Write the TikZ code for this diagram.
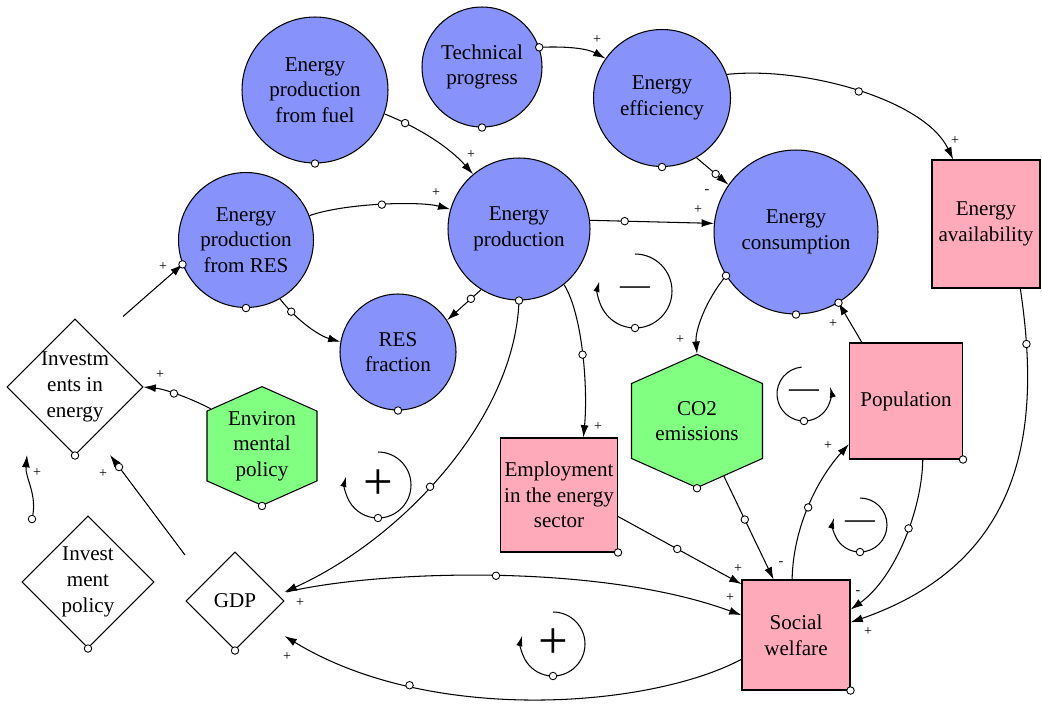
\documentclass[tikz,border=0pt]{standalone}
\usepackage{fontspec}
\setmainfont{Liberation Serif}
\usetikzlibrary{shapes.geometric,shapes.symbols,arrows.meta}
\definecolor{varblue}{RGB}{135,146,250}
\definecolor{auxpink}{RGB}{255,170,186}
\definecolor{polgreen}{RGB}{128,255,128}
\newcommand{\loopplus}{\fontsize{30}{30}\selectfont +}
\newcommand{\loopminus}{\fontsize{17}{17}\selectfont —}
\begin{document}
\begin{tikzpicture}[x=0.02cm,y=0.02cm]
    \tikzstyle{txt}=[align=center,font=\fontsize{12}{14.6}\selectfont]
    \tikzstyle{var}=[txt,circle,fill=varblue,draw=black,line width=0.6pt,inner sep=0pt]
    \tikzstyle{aux}=[txt,rectangle,fill=auxpink,draw=black,line width=0.6pt,inner sep=0pt]
    \tikzstyle{pol}=[txt,signal,signal to=north and south,signal pointer angle=132,fill=polgreen,draw=black,line width=0.6pt,inner sep=0pt]
    \tikzstyle{dmd}=[diamond,fill=white,draw=black,line width=0.6pt,inner sep=0pt,aspect=1]
    \tikzstyle{fwd}=[draw=black,line width=0.6pt,-{Latex[length=7pt,width=4.5pt]}]
    \tikzstyle{loopar}=[draw=black,line width=0.6pt,-{Latex[length=6pt,width=3.6pt]}]
    \tikzstyle{hndl}=[circle,draw=black,fill=white,line width=0.5pt,inner sep=0pt,minimum size=0.15cm]
    \tikzstyle{sgn}=[font=\fontsize{8}{8}\selectfont,inner sep=0pt]
    \tikzstyle{lsign}=[inner sep=0pt]

    \useasboundingbox (0,0) rectangle (1042,-704);

    \node[var,minimum size=2.92cm] (fuel) at (315,-90) {Energy\\production\\from fuel};
    \node[var,minimum size=2.40cm] (tech) at (482,-67) {Technical\\progress};
    \node[var,minimum size=2.74cm] (eff) at (662,-98) {Energy\\efficiency};
    \node[var,minimum size=2.84cm] (prod) at (519,-229) {Energy\\production};
    \node[var,minimum size=3.28cm] (cons) at (796,-232) {Energy\\consumption};
    \node[var,minimum size=2.70cm] (res) at (246,-240) {Energy\\production\\from RES};
    \node[var,minimum size=2.32cm] (frac) at (398,-352) {RES\\fraction};

    \node[aux,minimum width=2.16cm,minimum height=2.56cm] (avail) at (986,-224) {Energy\\availability};
    \node[aux,minimum width=2.26cm,minimum height=2.32cm] (pop) at (906,-401) {Population};
    \node[aux,minimum width=2.34cm,minimum height=2.28cm] (empl) at (559,-495) {Employment\\in the energy\\sector};
    \node[aux,minimum width=2.16cm,minimum height=2.20cm] (sw) at (796,-635) {Social\\welfare};

    \node[pol,minimum width=2.62cm,minimum height=2.24cm] (co2) at (697,-421) {CO2\\emissions};
    \node[pol,minimum width=2.20cm,minimum height=1.96cm] (env) at (262,-446) {Environ\\mental\\policy};

    \node[dmd,minimum size=2.72cm,label={[txt]center:Investm\\ents in\\energy}] (inv) at (75,-387) {};
    \node[dmd,minimum size=2.64cm,label={[txt]center:Invest\\ment\\policy}] (ipol) at (88,-582) {};
    \node[dmd,minimum size=1.96cm,label={[txt]center:GDP}] (gdp) at (235,-601) {};

    \draw[fwd] (tech.19) .. controls (570,-46) and (588,-49) .. (eff.145) node[hndl,pos=0] (h1) {};
    \draw[fwd] (fuel.-19) .. controls (420,-128) and (450,-148) .. (prod.130) node[hndl,pos=0.2] (h2) {};
    \draw[fwd] (eff.-60) -- (cons.145) node[hndl,pos=0.6] (h3) {};
    \draw[fwd] (eff.20) .. controls (805,-66) and (925,-100) .. (avail.117) node[hndl,pos=0.5] (h4) {};
    \draw[fwd] (res.21) .. controls (345,-203) and (420,-201) .. (prod.164) node[hndl,pos=0.5] (h5) {};
    \draw[fwd] (prod.7) -- (cons.174) node[hndl,pos=0.28] (h6) {};
    \draw[fwd] (res.-60) .. controls (298,-322) and (320,-336) .. (frac.170) node[hndl,pos=0.2] (h7) {};
    \draw[fwd] (prod.-122) -- (frac.33) node[hndl,pos=0.3] (h8) {};
    \draw[fwd] (prod.-51) .. controls (583,-315) and (588,-390) .. (empl.67) node[hndl,pos=0.5] (h9) {};
    \draw[fwd] (prod.south) .. controls (515,-420) and (400,-540) .. ([shift={(0,9)}]gdp.east) node[hndl,pos=0.55] (h10) {};
    \draw[fwd] (cons.-148) .. controls (706,-300) and (695,-330) .. (co2.north) node[hndl,pos=0] (h11) {};
    \draw[fwd] (pop.127) -- (cons.-59) node[hndl,pos=1] (h12) {};
    \draw[fwd] (avail.-62) .. controls (1040,-420) and (1030,-560) .. (sw.13) node[hndl,pos=0.14] (h13) {};
    \draw[fwd] (pop.-74) .. controls (922,-510) and (895,-578) .. (sw.25) node[hndl,pos=0.42] (h14) {};
    \draw[fwd] (sw.94) .. controls (793,-530) and (815,-482) .. (pop.-143) node[hndl,pos=0.5] (h15) {};
    \draw[fwd] (co2.-64) -- (sw.112) node[hndl,pos=0.42] (h16) {};
    \draw[fwd] (empl.-20) -- (sw.137) node[hndl,pos=0.48] (h17) {};
    \draw[fwd] ([shift={(2,9)}]gdp.east) .. controls (380,-570) and (600,-563) .. (sw.160) node[hndl,pos=0.5] (h18) {};
    \draw[fwd] (sw.-156) .. controls (650,-708) and (430,-725) .. ([shift={(0,-35)}]gdp.east) node[hndl,pos=0.74] (h19) {};
    \draw[fwd] (env.144) .. controls (190,-398) and (165,-389) .. (inv.east) node[hndl,pos=0.55] (h20) {};
    \draw[fwd] ([shift={(48,2)}]inv.north) -- (res.-159) node[hndl,pos=1] (h21) {};
    \draw[fwd] ([shift={(-56,63)}]ipol.center) .. controls (38,-495) and (25,-478) .. ([shift={(-48,-68)}]inv.center) node[hndl,pos=0] (h22) {};
    \draw[fwd] ([shift={(-50,46)}]gdp.center) -- ([shift={(35,-68)}]inv.center) node[hndl,pos=0.88] (h23) {};

    \foreach \n in {fuel,tech,eff,prod,cons,res,frac,co2,env,inv,ipol,gdp}
        \node[hndl] (b\n) at (\n.south) {};
    \foreach \n in {empl,pop,sw}
        \node[hndl] (b\n) at (\n.south east) {};

    \foreach \x/\y/\r/\a/\e/\t [count=\i] in {635/-291/37/90/-195/\loopminus, 804/-394/27/95/375/\loopminus,
        860/-525/27/90/-195/\loopminus, 378/-485/33/90/-195/\loopplus, 553/-644/32/90/-195/\loopplus} {
        \coordinate (l\i) at (\x,\y);
        \draw[loopar] ([shift={(\a:\r)}]l\i) arc[start angle=\a,end angle=\e,radius=\r];
        \node[hndl] (lb\i) at ([shift={(0,-\r)}]l\i) {};
        \node[lsign] (lt\i) at (l\i) {\t};
    }

    \foreach \x/\y/\t [count=\i] in {597/40/+, 471/155/+, 707/192/-, 698/210/+, 436/193/+, 955/141/+,
        163/267/+, 160/375/+, 598/427/+, 680/340/+, 833/324/+, 828/446/+, 37/473/+, 103/474/+,
        300/603/+, 287/657/+, 738/569/+, 730/598/+, 781/564/-, 858/593/-, 868/632/+}
        \node[sgn] (s\i) at (\x,-\y) {\t};

\end{tikzpicture}
\end{document}
